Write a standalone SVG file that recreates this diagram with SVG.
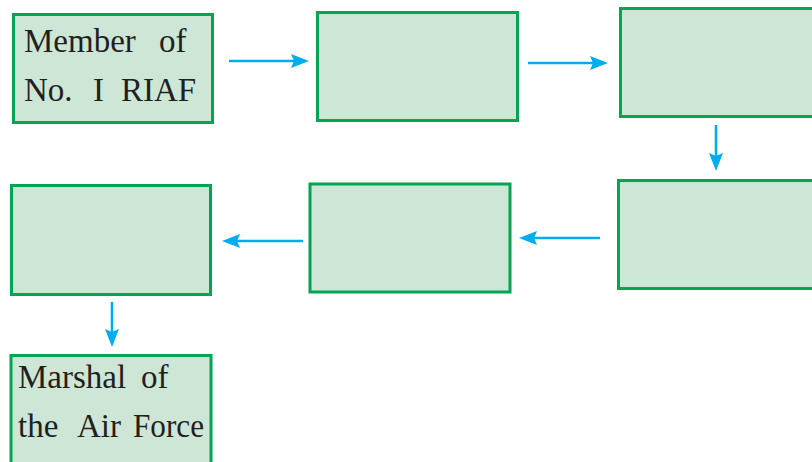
<svg xmlns="http://www.w3.org/2000/svg" width="812" height="462" viewBox="0 0 812 462">
<style>
.box{fill:#cde6d5;stroke:#00a651;stroke-width:3}
.lbl{font-family:"Liberation Serif","Times New Roman",serif;font-size:33px;fill:#231f20}
.con{stroke:#00aeef;stroke-width:2.6;fill:none}
.head{fill:#00aeef}
</style>
<rect width="812" height="462" fill="#ffffff"/>
<g id="node1"><rect class="box" x="13.5" y="14.5" width="199" height="108"/>
<text class="lbl" y="52"><tspan x="24">Member</tspan><tspan x="159">of</tspan></text>
<text class="lbl" y="101"><tspan x="24">No.</tspan><tspan x="93">I</tspan><tspan x="121">RIAF</tspan></text></g>
<g id="node2"><rect class="box" x="317.5" y="12.5" width="200" height="108"/></g>
<g id="node3"><rect class="box" x="620.5" y="8.5" width="220" height="108"/></g>
<g id="node4"><rect class="box" x="618.5" y="180.5" width="220" height="108"/></g>
<g id="node5"><rect class="box" x="310" y="184" width="200" height="108"/></g>
<g id="node6"><rect class="box" x="11.5" y="185.5" width="199" height="109"/></g>
<g id="node7"><rect class="box" x="11" y="355.5" width="200" height="120"/>
<text class="lbl" y="388"><tspan x="18">Marshal</tspan><tspan x="141">of</tspan></text>
<text class="lbl" y="437"><tspan x="18">the</tspan><tspan x="77">Air</tspan><tspan x="133" textLength="71" lengthAdjust="spacingAndGlyphs">Force</tspan></text></g>
<g id="connectors">
<line class="con" x1="229" y1="61" x2="294" y2="61"/>
<path class="head" d="M309,61 L291,54 L294,61 L291,68 Z"/>
<line class="con" x1="528" y1="63" x2="593" y2="63"/>
<path class="head" d="M608,63 L590,56 L593,63 L590,70 Z"/>
<line class="con" x1="716" y1="125" x2="716" y2="157"/>
<path class="head" d="M716,171 L709,153 L716,156 L723,153 Z"/>
<line class="con" x1="600" y1="238" x2="534" y2="238"/>
<path class="head" d="M519,238 L537,231 L534,238 L537,245 Z"/>
<line class="con" x1="303" y1="241" x2="237" y2="241"/>
<path class="head" d="M222,241 L240,234 L237,241 L240,248 Z"/>
<line class="con" x1="112" y1="302" x2="112" y2="333"/>
<path class="head" d="M112,347 L105,329 L112,332 L119,329 Z"/>
</g>
</svg>
